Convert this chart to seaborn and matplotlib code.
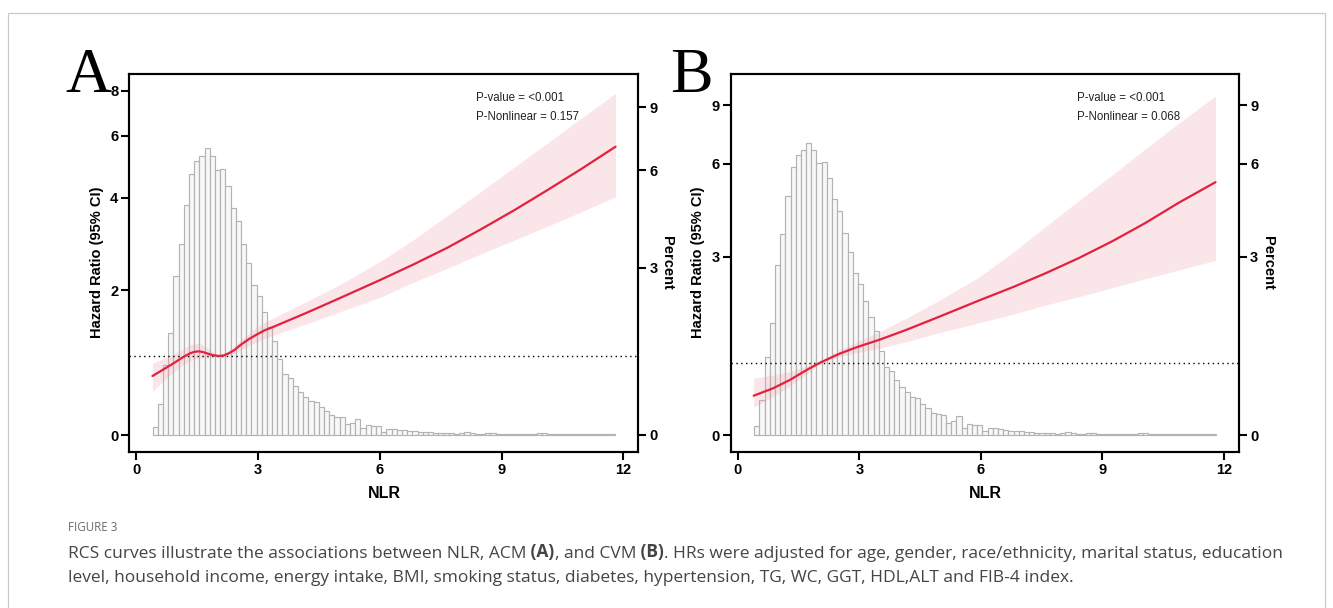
import numpy as np
import seaborn as sns
import matplotlib.pyplot as plt
from matplotlib.patches import Rectangle
from matplotlib.ticker import NullLocator

# NLR distribution (percent of participants per bin), same cohort in both panels
hist_start = 0.404
hist_width = 0.128
hist_pct = [
    0.12, 0.47, 1.10, 1.65, 2.81, 3.60, 4.75, 5.86, 6.36, 6.61,
    6.92, 6.61, 6.02, 6.05, 5.42, 4.67, 4.25, 3.61, 3.12, 2.62,
    2.38, 2.04, 1.76, 1.51, 1.19, 0.95, 0.89, 0.75, 0.66, 0.59,
    0.52, 0.50, 0.42, 0.37, 0.30, 0.28, 0.27, 0.16, 0.19, 0.25,
    0.10, 0.15, 0.14, 0.13, 0.05, 0.09, 0.09, 0.08, 0.07, 0.06,
    0.06, 0.05, 0.04, 0.04, 0.03, 0.03, 0.03, 0.03, 0.02, 0.03,
    0.04, 0.03, 0.02, 0.02, 0.03, 0.03, 0.02, 0.02, 0.02, 0.01,
    0.02, 0.02, 0.01, 0.02, 0.03, 0.03, 0.01, 0.01, 0.02, 0.01,
    0.01, 0.01, 0.02, 0.01, 0.01, 0.01, 0.01, 0.01, 0.01,
]

# panel A: all-cause mortality, RCS hazard ratio with 95% CI
acm_nlr = [0.40, 0.66, 0.92, 1.13, 1.33, 1.43, 1.54, 1.64, 1.74, 1.88,
           2.03, 2.15, 2.28, 2.42, 2.57, 2.77, 2.98, 3.18, 3.39, 4.21,
           5.03, 6.02, 6.84, 7.66, 8.48, 9.30, 10.12, 10.95, 11.81]
acm_hr = [0.733, 0.815, 0.900, 0.975, 1.035, 1.055, 1.062, 1.053, 1.035, 1.011,
          0.998, 1.005, 1.035, 1.080, 1.150, 1.231, 1.303, 1.365, 1.415, 1.630,
          1.868, 2.18, 2.47, 2.80, 3.20, 3.66, 4.20, 4.83, 5.60]
acm_hi = [0.900, 0.961, 1.025, 1.090, 1.150, 1.167, 1.173, 1.153, 1.117, 1.060,
          1.007, 1.025, 1.070, 1.136, 1.220, 1.313, 1.415, 1.486, 1.551, 1.81,
          2.10, 2.53, 2.98, 3.53, 4.16, 4.89, 5.72, 6.70, 7.86]
acm_lo = [0.533, 0.666, 0.789, 0.870, 0.934, 0.952, 0.967, 0.970, 0.967, 0.979,
          0.989, 0.993, 0.998, 1.032, 1.080, 1.139, 1.196, 1.246, 1.293, 1.46,
          1.645, 1.88, 2.14, 2.39, 2.67, 2.96, 3.27, 3.62, 4.02]

# panel B: cardiovascular mortality
cvm_nlr = [0.39, 0.865, 1.28, 1.69, 2.02, 2.51, 2.92, 3.50, 4.15, 4.97,
           5.96, 6.78, 7.60, 8.42, 9.24, 10.06, 10.88, 11.79]
cvm_hr = [0.533, 0.636, 0.754, 0.897, 1.006, 1.145, 1.243, 1.367, 1.527, 1.757,
          2.06, 2.32, 2.62, 2.97, 3.39, 3.90, 4.53, 5.26]
cvm_hi = [0.779, 0.826, 0.874, 0.958, 1.018, 1.202, 1.324, 1.499, 1.730, 2.06,
          2.54, 3.10, 3.80, 4.61, 5.54, 6.66, 7.95, 9.60]
cvm_lo = [0.374, 0.519, 0.669, 0.836, 0.999, 1.099, 1.160, 1.229, 1.334, 1.48,
          1.65, 1.80, 1.97, 2.13, 2.31, 2.50, 2.69, 2.91]

x_ticks = [0, 3, 6, 9, 12]
acm_hr_ticks = [0, 2, 4, 6, 8]
cvm_hr_ticks = [0, 3, 6, 9]
pct_ticks = [0, 3, 6, 9]

sns.set_style("ticks")
plt.rcParams["font.family"] = ["Liberation Sans", "DejaVu Sans"]
plt.rcParams["text.color"] = "black"

W, H = 1333, 608
fig = plt.figure(figsize=(W / 100, H / 100), dpi=100)

LINE = "#e3213f"
BAND = "#ef9aab"


def px(x0, y0, x1, y1):
    """pixel box (left, top, right, bottom) -> figure rect"""
    return [x0 / W, 1 - y1 / H, (x1 - x0) / W, (y1 - y0) / H]


def draw_panel(rect, nlr, hr, lo, hi, hr_width, hr_lim, hr_ticks,
               pct_width, pct_lim, p_nonlinear):
    ax = fig.add_axes(rect)
    ax2 = ax.twinx()

    edges = hist_start + hist_width * np.arange(len(hist_pct) + 1)
    centers = edges[:-1] + hist_width / 2
    sns.histplot(x=centers, weights=hist_pct, bins=list(edges), ax=ax2,
                 color="#f8f8f8", edgecolor="#b3b3b3", linewidth=0.85,
                 alpha=1)

    ax.fill_between(nlr, lo, hi, color=BAND, alpha=0.25, lw=0, zorder=1)
    sns.lineplot(x=nlr, y=hr, ax=ax, color=LINE, lw=1.6, zorder=3)
    ax.axhline(1, color="black", ls=(0, (1, 2.5)), lw=1, zorder=2)

    ax.set_zorder(ax2.get_zorder() + 1)
    ax.patch.set_visible(False)

    ax.set_yscale("asinh", linear_width=hr_width)
    ax2.set_yscale("asinh", linear_width=pct_width)
    for a in (ax, ax2):
        a.yaxis.set_minor_locator(NullLocator())
        a.set_xlim(-0.17, 12.37)
        a.set_xlabel("")
        a.set_ylabel("")
        for s in a.spines.values():
            s.set_visible(True)
            s.set_linewidth(1.5)
            s.set_color("black")
        a.tick_params(direction="out", length=6, width=1.5, pad=2,
                      labelsize=10.5, colors="black")
    ax.set_ylim(*hr_lim)
    ax2.set_ylim(*pct_lim)

    ax.set_yticks(hr_ticks, [str(t) for t in hr_ticks], fontweight="bold")
    ax2.set_yticks(pct_ticks, [str(t) for t in pct_ticks], fontweight="bold")
    ax.set_xticks(x_ticks, [str(t) for t in x_ticks], fontweight="bold")

    ax.text(0.681, 0.936, "P-value = <0.001", transform=ax.transAxes,
            fontsize=8.3, va="center", ha="left", color="#222222")
    ax.text(0.681, 0.887, f"P-Nonlinear = {p_nonlinear}",
            transform=ax.transAxes, fontsize=8.3, va="center", ha="left",
            color="#222222")
    return ax, ax2


ax_a, _ = draw_panel(px(129.3, 74, 638.3, 452), acm_nlr, acm_hr, acm_lo, acm_hi,
                     2, (-0.207, 8.87), acm_hr_ticks,
                     2.5, (-0.259, 11.09), "0.157")
ax_b, _ = draw_panel(px(731, 74, 1239, 452), cvm_nlr, cvm_hr, cvm_lo, cvm_hi,
                     2, (-0.228, 11.15), cvm_hr_ticks,
                     2, (-0.228, 11.15), "0.068")

# axis titles
for xc_hr, xc_pct, xc_nlr in ((97, 667, 384), (698, 1268, 985)):
    fig.text(xc_hr / W, 1 - 262 / H, "Hazard Ratio (95% CI)", rotation=90,
             ha="center", va="center", fontsize=10.5, fontweight="bold")
    fig.text(xc_pct / W, 1 - 263 / H, "Percent", rotation=270,
             ha="center", va="center", fontsize=10.5, fontweight="bold")
    fig.text(xc_nlr / W, 1 - 493 / H, "NLR", ha="center", va="center",
             fontsize=11.5, fontweight="bold")

# panel letters
for xl, letter in ((65, "A"), (670, "B")):
    fig.text(xl / W, 1 - 92 / H, letter,
             family=["Liberation Serif", "DejaVu Serif"],
             fontsize=46, va="baseline", ha="left", color="black")

# caption
cap_font = dict(family=["Open Sans", "DejaVu Sans"], fontsize=12.5,
                color="#444444")
fig.text(68 / W, 1 - 530.7 / H, "FIGURE 3", family=["Open Sans", "DejaVu Sans"],
         fontsize=8.4, color="#6a6a6a", va="baseline")
pieces = [
    ("RCS curves illustrate the associations between NLR, ACM", "normal"),
    (" (A)", "bold"),
    (", and CVM", "normal"),
    (" (B)", "bold"),
    (". HRs were adjusted for age, gender, race/ethnicity, marital status, education",
     "normal"),
]
prev = fig.text(68 / W, 1 - 561.5 / H, pieces[0][0], va="bottom", ha="left",
                **cap_font)
for txt, weight in pieces[1:]:
    prev = ax_a.annotate(txt, xy=(1, 0), xycoords=prev, va="bottom",
                         ha="left", fontweight=weight, annotation_clip=False,
                         **cap_font)
fig.text(68 / W, 1 - 585.5 / H,
         "level, household income, energy intake, BMI, smoking status, diabetes, "
         "hypertension, TG, WC, GGT, HDL,ALT and FIB-4 index.",
         va="bottom", ha="left", **cap_font)

# page frame
fig.add_artist(Rectangle((8 / W, -0.01), 1317 / W, 1 - 13 / H + 0.01,
                         transform=fig.transFigure, fill=False,
                         edgecolor="#c9c9c9", lw=0.9))

fig.savefig("out.png", dpi=100)
